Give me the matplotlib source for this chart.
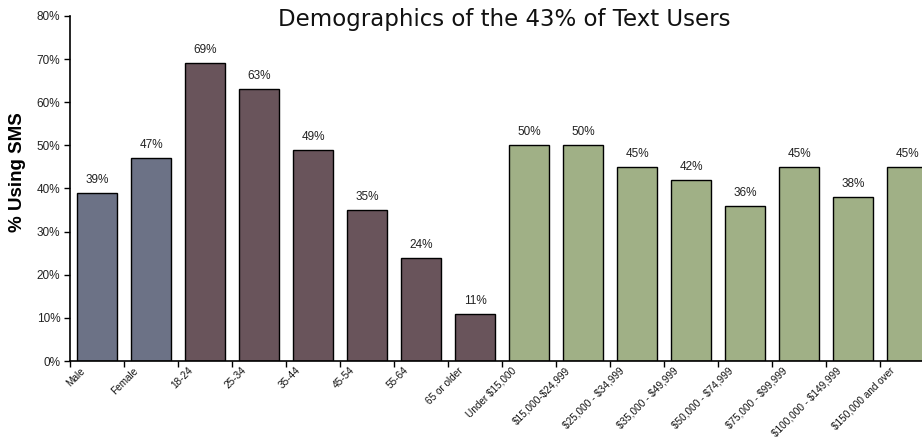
import numpy as np
import matplotlib.pyplot as plt
from matplotlib.transforms import offset_copy

plt.rcParams['text.parse_math'] = False

categories = ['Male', 'Female',
              '18-24', '25-34', '35-44', '45-54', '55-64', '65 or older',
              'Under $15,000', '$15,000-$24,999', '$25,000 - $34,999',
              '$35,000 - $49,999', '$50,000 - $74,999', '$75,000 - $99,999',
              '$100,000 - $149,999', '$150,000 and over']
pct_sms = [39, 47,
           69, 63, 49, 35, 24, 11,
           50, 50, 45, 42, 36, 45, 38, 45]
groups = ['gender'] * 2 + ['age'] * 6 + ['income'] * 8

group_colors = {'gender': '#6c7286', 'age': '#69545b', 'income': '#a0b086'}

fig = plt.figure(figsize=(9.22, 4.40), dpi=100)
# axes runs a little past the right edge, so the last bar gets cut
ax = fig.add_axes([70/922, 79/440, 864/922, 345/440])

x = np.arange(len(categories))
colors = [group_colors[g] for g in groups]
bars = ax.bar(x, pct_sms, width=0.74, color=colors, edgecolor='black', linewidth=1.0, zorder=2)

for xi, v in zip(x, pct_sms):
    ax.annotate(f'{v}%', (xi, v), xytext=(0, 5), textcoords='offset points',
                ha='center', va='bottom', fontsize=8.5, family='Liberation Sans', color='#222222')

ax.set_xlim(-0.5, len(categories) - 0.5)
ax.set_ylim(0, 80)
ax.set_yticks(np.arange(0, 81, 10))
ax.set_yticklabels([f'{t}%' for t in range(0, 81, 10)], fontsize=8.5, family='Liberation Sans', color='#222222')

# tick marks sit on category boundaries, labels go under each bar
ax.set_xticks(np.arange(len(categories) + 1) - 0.5)
ax.set_xticklabels([])
ax.tick_params(axis='x', direction='out', length=4, width=1)
ax.tick_params(axis='y', direction='out', length=4, width=1, pad=3)

lbl_trans = offset_copy(ax.get_xaxis_transform(), fig=fig, x=-14, y=-8, units='dots')
for xi, name in zip(x, categories):
    ax.text(xi, 0, name, transform=lbl_trans, rotation=45, rotation_mode='anchor',
            ha='right', va='center', fontsize=7.2, family='Liberation Sans', color='#111111')

for side in ['top', 'right']:
    ax.spines[side].set_visible(False)
for side in ['left', 'bottom']:
    ax.spines[side].set_linewidth(1.2)

fig.text(18/922, 1 - 172/440, '% Using SMS', rotation=90, ha='center', va='center',
         fontsize=13.5, fontweight='bold', family='Liberation Sans')
fig.text(504/922, 1 - 8/440, 'Demographics of the 43% of Text Users', ha='center', va='top',
         fontsize=16.5, family='DejaVu Sans', color='#111111')

fig.savefig('out.png', dpi=100)
